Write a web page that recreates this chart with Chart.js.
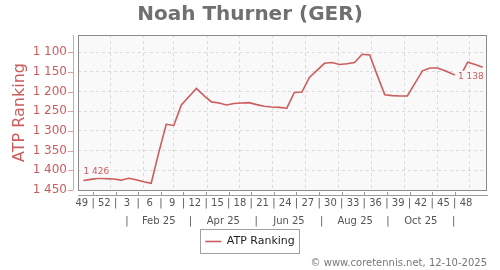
<!DOCTYPE html>
<html>
<head>
<meta charset="utf-8">
<script src="https://cdn.jsdelivr.net/npm/chart.js@4"></script>
<style>
  html, body { margin: 0; padding: 0; background: #fff; }
  #wrap { width: 500px; height: 270px; }
</style>
</head>
<body>
<div id="wrap"><canvas id="rankChart"></canvas></div>
<script>
// Dados do gráfico
const playerName = 'Noah Thurner (GER)';
const seriesName = 'ATP Ranking';
const creditText = '\u00a9 www.coretennis.net, 12-10-2025';

const axisStart = '2024-12-02';
const axisEnd = '2025-12-17';
const firstRankDate = '2024-12-07';

// ranking semanal, um valor por semana
const ranks = [
  1426, 1423, 1420, 1421, 1422, 1425, 1420, 1424, 1429, 1433,
  1355, 1283, 1286, 1234, 1213, 1192, 1210, 1226, 1229, 1234,
  1230, 1229, 1228, 1233, 1237, 1239, 1240, 1242, 1202, 1201,
  1164, 1146, 1128, 1126, 1131, 1129, 1126, 1105, 1107, 1158,
  1208, 1210, 1211, 1211, 1179, 1147, 1140, 1140, 1147, 1155,
  1162, 1125, 1131, 1138
];

const rankTicks = [1100, 1150, 1200, 1250, 1300, 1350, 1400, 1450];
const rankMin = 1056;
const rankMax = 1450;

const weekLabels = ['49', '52', '3', '6', '9', '12', '15', '18', '21',
                    '24', '27', '30', '33', '36', '39', '42', '45', '48'];
const monthLabels = ['|', 'Feb 25', '|', 'Apr 25', '|', 'Jun 25',
                     '|', 'Aug 25', '|', 'Oct 25', '|'];

const DAY = 86400000;
const dayOf = ms => (ms - Date.parse(axisStart)) / DAY;
const lastDay = dayOf(Date.parse(axisEnd));
const firstDay = dayOf(Date.parse(firstRankDate));

// linha de semanas: rótulo a cada 3 semanas, "|" entre eles
const weekRow = [];
weekLabels.forEach((w, i) => {
  weekRow.push({ day: 3.5 + 21 * i, text: w });
  if (i < weekLabels.length - 1) weekRow.push({ day: 14 + 21 * i, text: '|', sep: true });
});

// linha dos meses: grade no início do mês, texto no meio
const monthRow = [];
for (let m = 0; m < 12; m++) {
  monthRow.push({ day: dayOf(Date.UTC(2025, m, 1)), text: '', start: true });
}
monthLabels.forEach((t, m) => {
  const mid = (Date.UTC(2025, m, 1) + Date.UTC(2025, m + 1, 1)) / 2;
  monthRow.push({ day: dayOf(mid), text: t });
});

const fmt = v => String(v).replace(/\B(?=(\d{3})+(?!\d))/g, ' ');

const lineColor = '#cd5c5c';
const family = 'DejaVu Sans';
Chart.defaults.font.family = family;

const frame = {
  id: 'frame',
  beforeDraw(chart) {
    const { ctx, chartArea: a } = chart;
    ctx.save();
    ctx.fillStyle = '#f9f9f9';
    ctx.fillRect(a.left, a.top, a.right - a.left, a.bottom - a.top);
    ctx.restore();
  },
  afterDatasetsDraw(chart) {
    const { ctx } = chart;
    const pts = chart.getDatasetMeta(0).data;
    const first = pts[0], last = pts[pts.length - 1];
    ctx.save();
    ctx.font = '9px ' + family;
    ctx.textBaseline = 'middle';
    const tags = [
      { p: first, text: fmt(ranks[0]), align: 'left', dx: 0, dy: -9 },
      { p: last, text: fmt(ranks[ranks.length - 1]), align: 'right', dx: 1, dy: 9.5 }
    ];
    tags.forEach(t => {
      const w = ctx.measureText(t.text).width;
      const x0 = t.align === 'left' ? t.p.x + t.dx : t.p.x + t.dx - w;
      const y = t.p.y + t.dy;
      ctx.fillStyle = '#f9f9f9';
      ctx.fillRect(x0 - 3, y - 6, w + 5, 12);
      ctx.fillStyle = lineColor;
      ctx.textAlign = 'left';
      ctx.fillText(t.text, x0, y);
    });
    ctx.restore();
  },
  afterDraw(chart) {
    const { ctx, chartArea: a } = chart;
    ctx.save();
    // moldura
    ctx.strokeStyle = '#8a8a8a';
    ctx.lineWidth = 1;
    ctx.strokeRect(a.left + 0.5, a.top + 0.5, a.right - a.left - 1, a.bottom - a.top);
    // eixo y
    ctx.strokeStyle = '#dda0a0';
    ctx.beginPath();
    ctx.moveTo(a.left - 4.5, a.top);
    ctx.lineTo(a.left - 4.5, a.bottom);
    chart.scales.y.ticks.forEach(t => {
      const py = Math.round(chart.scales.y.getPixelForValue(t.value)) + 0.5;
      ctx.moveTo(a.left - 10, py);
      ctx.lineTo(a.left - 5, py);
    });
    ctx.stroke();
    // eixo x
    ctx.strokeStyle = '#9a9a9a';
    ctx.beginPath();
    ctx.moveTo(a.left, a.bottom + 5.5);
    ctx.lineTo(a.right + 1, a.bottom + 5.5);
    weekRow.filter(t => t.sep).forEach(t => {
      const px = Math.round(chart.scales.x.getPixelForValue(t.day)) + 0.5;
      ctx.moveTo(px, a.bottom + 2);
      ctx.lineTo(px, a.bottom + 5);
    });
    ctx.stroke();
    // caixa da legenda
    const hb = chart.legend.legendHitBoxes[0];
    if (hb) {
      ctx.strokeStyle = '#a0a0a0';
      ctx.strokeRect(Math.round(hb.left) - 4.5, Math.round(hb.top) - 6.5, Math.round(hb.width) + 9, hb.height + 13);
    }
    ctx.restore();
  }
};

new Chart(document.getElementById('rankChart'), {
  type: 'line',
  data: {
    datasets: [{
      label: seriesName,
      data: ranks.map((r, i) => ({ x: firstDay + 7 * i, y: r })),
      borderColor: lineColor,
      backgroundColor: lineColor,
      borderWidth: 1.6,
      pointRadius: 0,
      pointStyle: 'line',
      tension: 0
    }]
  },
  options: {
    responsive: true,
    maintainAspectRatio: false,
    animation: false,
    layout: { padding: { left: 13, right: 13, top: 0, bottom: 0 } },
    scales: {
      x: {
        type: 'linear', min: 0, max: lastDay, weight: 0,
        afterBuildTicks: s => { s.ticks = weekRow.map(t => ({ value: t.day })); },
        afterFit: s => { s.height = 20; },
        ticks: {
          autoSkip: false, maxRotation: 0, padding: 7, color: '#555',
          font: { size: 10 },
          callback: (v, i) => weekRow[i].text
        },
        grid: { display: false, drawTicks: false },
        border: { display: false }
      },
      xm: {
        type: 'linear', position: 'bottom', min: 0, max: lastDay, weight: 1,
        afterBuildTicks: s => { s.ticks = monthRow.map(t => ({ value: t.day })); },
        afterFit: s => { s.height = 24; },
        ticks: {
          autoSkip: false, maxRotation: 0, padding: 5, color: '#555',
          font: { size: 10 },
          callback: (v, i) => monthRow[i].text
        },
        grid: {
          drawTicks: false,
          color: c => (monthRow[c.index] && monthRow[c.index].start) ? '#dadada' : 'rgba(0,0,0,0)'
        },
        border: { display: false, dash: [3, 3] }
      },
      y: {
        reverse: true, min: rankMin, max: rankMax,
        afterBuildTicks: s => { s.ticks = rankTicks.map(v => ({ value: v })); },
        afterFit: s => { s.width = 65; },
        ticks: {
          color: lineColor, padding: 11, font: { size: 12 },
          callback: v => fmt(v)
        },
        grid: { color: '#dadada', drawTicks: false },
        border: { display: false, dash: [3, 3] },
        title: {
          display: true, text: seriesName, color: lineColor,
          font: { size: 16 }, padding: { top: -3, bottom: 0 }
        }
      }
    },
    plugins: {
      title: {
        display: true, text: playerName, color: '#707070',
        font: { size: 20, weight: 'bold' }, padding: { top: 3, bottom: 8 }
      },
      subtitle: {
        display: true, text: creditText, position: 'bottom', align: 'end',
        color: '#777', font: { size: 10 }, padding: { top: 0, bottom: 1 }
      },
      legend: {
        position: 'bottom',
        labels: {
          color: '#222', font: { size: 11 }, usePointStyle: true,
          pointStyleWidth: 16, boxHeight: 11, padding: 2
        }
      },
      tooltip: { enabled: false }
    }
  },
  plugins: [frame]
});
</script>
</body>
</html>
